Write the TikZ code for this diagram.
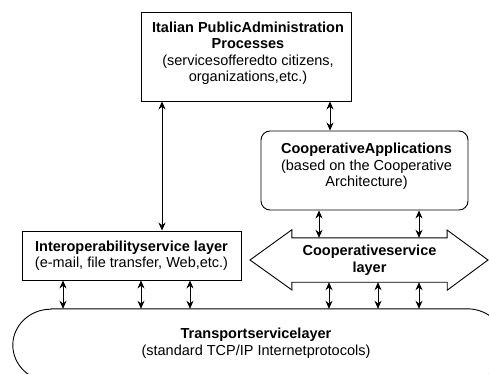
\documentclass[tikz,border=0pt]{standalone}
\usepackage{fontspec}
\setmainfont{Liberation Sans}
\usetikzlibrary{arrows.meta}
\newcommand\diagfont{\fontsize{14.5}{16.5}\selectfont}
\begin{document}
\begin{tikzpicture}[x=1pt,y=1pt,
  outline/.style={draw=black, line width=0.9pt},
  box/.style={outline, inner sep=0pt},
  caption/.style={inner sep=0pt, align=center, font=\diagfont},
  link/.style={{Stealth[length=8pt,width=7pt]}-{Stealth[length=8pt,width=7pt]}, line width=0.8pt}]
\useasboundingbox (0,0) rectangle (489,-374);

% layers and application boxes
\node[box, minimum width=210, minimum height=89] (top) at (246,-56.5) {};
\node[caption] (toptext) at ([xshift=2,yshift=3]top.center)
  {\textbf{Italian PublicAdministration}\\\textbf{Processes}\\(servicesofferedto citizens,\\organizations,etc.)};
\node[box, rounded corners=9pt, minimum width=207, minimum height=79] (apps) at (364.5,-170.5) {};
\node[caption] (appstext) at ([xshift=2,yshift=4]apps.center)
  {\textbf{CooperativeApplications}\\(based on the Cooperative\\Architecture)};
\node[box, minimum width=219, minimum height=49] (inter) at (131.5,-255.5) {};
\node[caption] (intertext) at (inter.center)
  {\textbf{Interoperabilityservice layer}\\(e-mail, file transfer, Web,etc.)};

% cooperative service layer: a double arrow around its body
\node[inner sep=0pt, align=center, font=\diagfont\bfseries, minimum width=155, minimum height=44] (coop) at (369.5,-260)
  {Cooperativeservice\\layer};
\draw[outline] (coop.north west) -- ++(0,8) -- (250,-260) -- ++(42,-30) -- (coop.south west)
  -- (coop.south east) -- ++(0,-8) -- (488,-260) -- ++(-41,30) -- (coop.north east) -- cycle;

% transport layer, running off the page edges
\node[inner sep=0pt, minimum width=416, minimum height=72] (trans) at (259,-345) {};
\node[caption] (transtext) at ([xshift=-3,yshift=2]trans.center)
  {\textbf{Transportservicelayer}\\(standard TCP/IP Internetprotocols)};
\begin{scope}
  \clip (0,0) rectangle (489,-374);
  \draw[outline] (trans.north west) -- (trans.north east)
    arc[start angle=90, end angle=-90, x radius=38, y radius=36]
    -- (trans.south west)
    arc[start angle=-90, end angle=-270, x radius=38, y radius=36] -- cycle;
\end{scope}

% connector positions
\coordinate (a1) at (162,0);
\coordinate (a2) at (330,0);
\coordinate (b1) at (319,0);
\coordinate (b2) at (419,0);
\coordinate (c1) at (63,0);
\coordinate (c2) at (141,0);
\coordinate (c3) at (190,0);
\coordinate (d1) at (329,0);
\coordinate (d2) at (378,0);
\coordinate (d3) at (419,0);

\draw[link] (a1 |- top.south) -- (a1 |- inter.north);
\draw[link] (a2 |- top.south) -- (a2 |- apps.north);
\draw[link] (b1 |- apps.south) -- (b1 |- coop.north);
\draw[link] (b2 |- apps.south) -- (b2 |- coop.north);
\foreach \c in {c1,c2,c3}
  \draw[link] (\c |- inter.south) -- (\c |- trans.north);
\foreach \c in {d1,d2,d3}
  \draw[link] (\c |- coop.south) -- (\c |- trans.north);
\end{tikzpicture}
\end{document}
